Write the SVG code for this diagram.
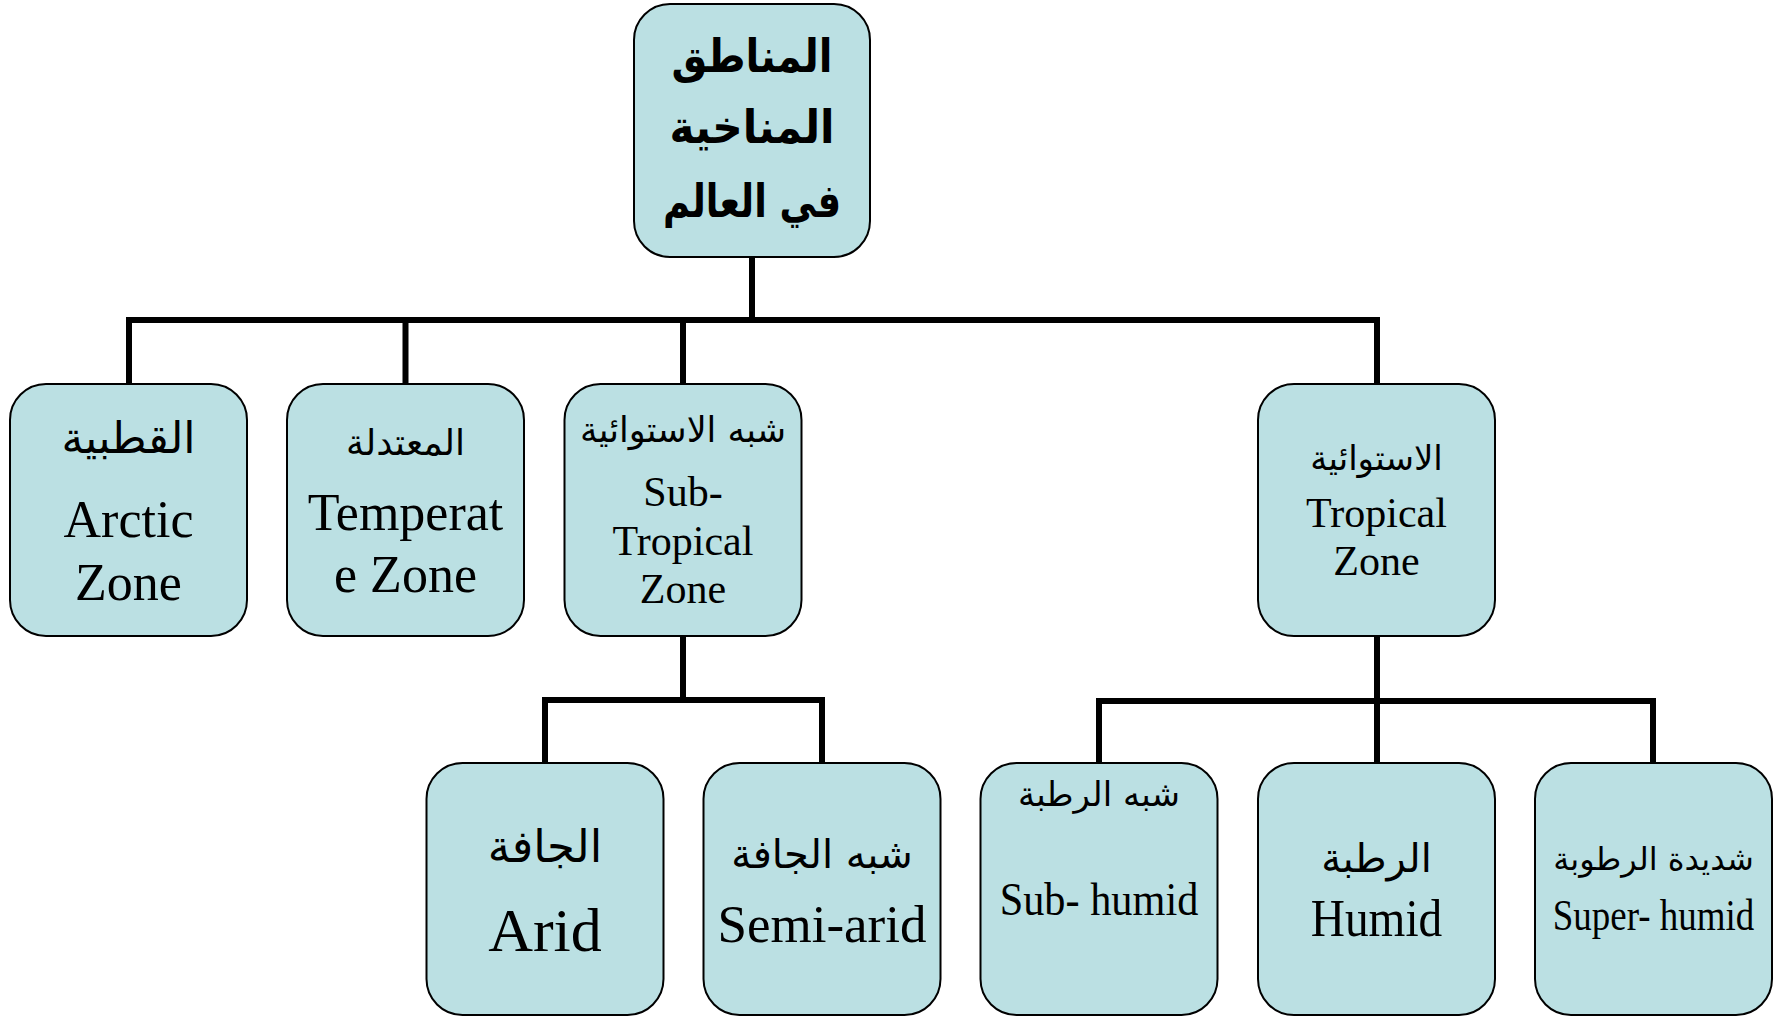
<svg xmlns="http://www.w3.org/2000/svg" width="1781" height="1017" viewBox="0 0 1781 1017">
<style>
.box{fill:#BBE0E3;stroke:#000;stroke-width:2}
.conn{fill:none;stroke:#000;stroke-width:6;stroke-linecap:square}
.ar{font-family:"DejaVu Sans",sans-serif;text-anchor:middle;fill:#000}
.en{font-family:"Liberation Serif","Times New Roman",serif;text-anchor:middle;fill:#000}
</style>
<rect width="1781" height="1017" fill="#fff"/>
<g id="connectors">
<path class="conn" d="M752,257 V320 M129,320 H1377 M129,320 V384 M405.5,320 V384 M683,320 V384 M1377,320 V384"/>
<path class="conn" d="M683,636 V700 M545,700 H822 M545,700 V763 M822,700 V763"/>
<path class="conn" d="M1377,636 V701 M1099,701 H1653 M1099,701 V763 M1377,701 V763 M1653,701 V763"/>
</g>
<g id="root">
<rect class="box" x="634" y="4" width="236" height="253" rx="36"/>
<text class="ar" x="752" y="72" font-size="46" font-weight="bold" textLength="161" lengthAdjust="spacingAndGlyphs">المناطق</text>
<text class="ar" x="752" y="143" font-size="46" font-weight="bold" textLength="165" lengthAdjust="spacingAndGlyphs">المناخية</text>
<text class="ar" x="752" y="217" font-size="46" font-weight="bold" textLength="178" lengthAdjust="spacingAndGlyphs">في العالم</text>
</g>
<g id="arctic">
<rect class="box" x="10" y="384" width="237" height="252" rx="36"/>
<text class="ar" x="128.5" y="453" font-size="44">القطبية</text>
<text class="en" x="128.5" y="537" font-size="52">Arctic</text>
<text class="en" x="128.5" y="600" font-size="52">Zone</text>
</g>
<g id="temperate">
<rect class="box" x="287" y="384" width="237" height="252" rx="36"/>
<text class="ar" x="405.5" y="455" font-size="36">المعتدلة</text>
<text class="en" x="405.5" y="530" font-size="52">Temperat</text>
<text class="en" x="405.5" y="592" font-size="52">e Zone</text>
</g>
<g id="subtropical">
<rect class="box" x="564.5" y="384" width="237" height="252" rx="36"/>
<text class="ar" x="683" y="442" font-size="35">شبه الاستوائية</text>
<text class="en" x="683" y="506" font-size="42">Sub-</text>
<text class="en" x="683" y="555" font-size="42">Tropical</text>
<text class="en" x="683" y="603" font-size="42">Zone</text>
</g>
<g id="tropical">
<rect class="box" x="1258" y="384" width="237" height="252" rx="36"/>
<text class="ar" x="1376.5" y="470" font-size="34">الاستوائية</text>
<text class="en" x="1376.5" y="527" font-size="42">Tropical</text>
<text class="en" x="1376.5" y="575" font-size="42">Zone</text>
</g>
<g id="arid">
<rect class="box" x="426.5" y="763" width="237" height="252" rx="36"/>
<text class="ar" x="545" y="862" font-size="45">الجافة</text>
<text class="en" x="545" y="951" font-size="62">Arid</text>
</g>
<g id="semiarid">
<rect class="box" x="703.5" y="763" width="237" height="252" rx="36"/>
<text class="ar" x="822" y="868" font-size="40">شبه الجافة</text>
<text class="en" x="822" y="942" font-size="53">Semi-arid</text>
</g>
<g id="subhumid">
<rect class="box" x="980.5" y="763" width="237" height="252" rx="36"/>
<text class="ar" x="1099" y="806" font-size="34">شبه الرطبة</text>
<text class="en" transform="translate(1099,915) scale(0.92,1)" font-size="46">Sub- humid</text>
</g>
<g id="humid">
<rect class="box" x="1258" y="763" width="237" height="252" rx="36"/>
<text class="ar" x="1376.5" y="872" font-size="40">الرطبة</text>
<text class="en" transform="translate(1376.5,936) scale(0.91,1)" font-size="52">Humid</text>
</g>
<g id="superhumid">
<rect class="box" x="1535" y="763" width="237" height="252" rx="36"/>
<text class="ar" x="1653.5" y="870" font-size="32">شديدة الرطوبة</text>
<text class="en" transform="translate(1653.5,930) scale(0.84,1)" font-size="44">Super- humid</text>
</g>
</svg>
